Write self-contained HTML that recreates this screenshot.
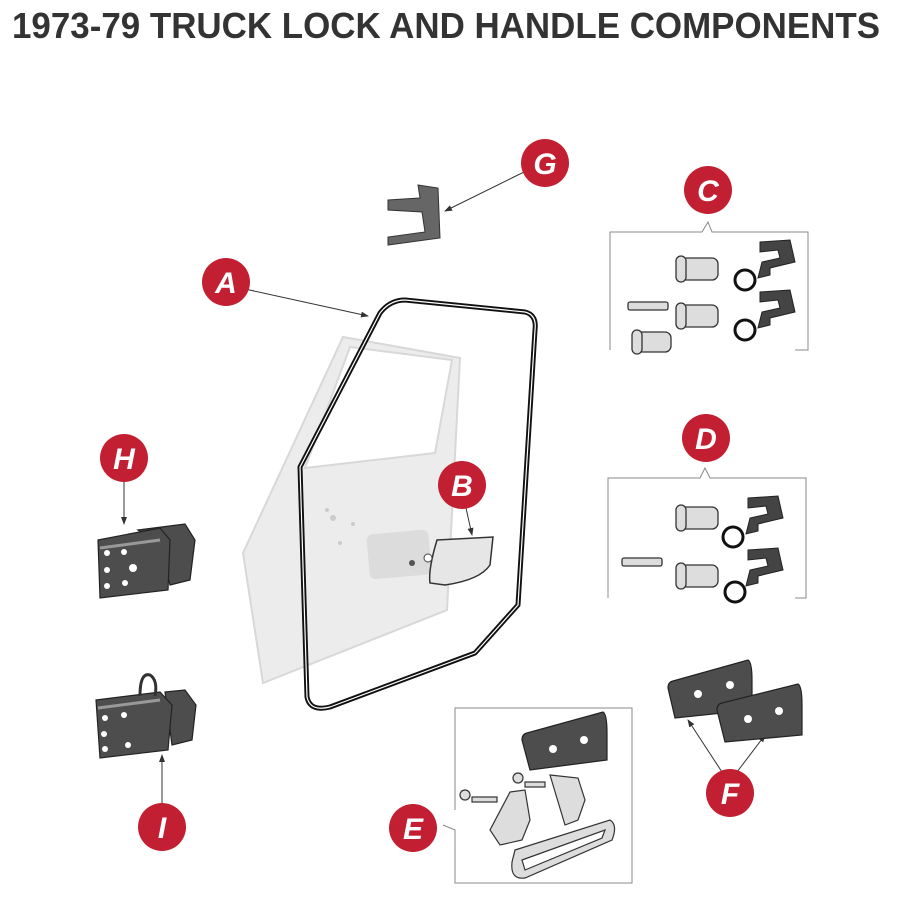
<!DOCTYPE html>
<html><head><meta charset="utf-8"><style>
html,body{margin:0;padding:0;background:#fff;width:900px;height:916px;overflow:hidden}
svg{position:absolute;left:0;top:0}
.b text{font-family:"Liberation Sans",sans-serif;font-weight:bold;font-style:italic;font-size:30px;fill:#fff;text-anchor:middle}
</style></head><body>
<svg width="900" height="916" viewBox="0 0 900 916">
<defs><marker id="ar" markerWidth="8" markerHeight="8" refX="7" refY="4" orient="auto"><path d="M0,1 L8,4 L0,7z" fill="#333"/></marker></defs>
<text x="12" y="38" textLength="868" lengthAdjust="spacingAndGlyphs" font-family="Liberation Sans, sans-serif" font-weight="bold" font-size="36" fill="#333">1973-79 TRUCK LOCK AND HANDLE COMPONENTS</text>
<!-- door -->
<path d="M343,337 L460,358 L447,610 L263,683 L243,553 Z" fill="#ececec" stroke="#d8d8d8" stroke-width="2"/>
<path d="M350,347 L452,360 L435,453 L305,468 Z" fill="#fff" stroke="#d8d8d8" stroke-width="2"/>
<rect x="368" y="532" width="62" height="45" rx="6" fill="#dcdcdc" transform="rotate(-5 399 554)"/>
<circle cx="327" cy="510" r="2" fill="#ccc"/><circle cx="333" cy="518" r="3" fill="#ccc"/><circle cx="353" cy="524" r="2" fill="#ccc"/><circle cx="340" cy="543" r="2" fill="#ccc"/>
<!-- seal -->
<path d="M300,467 L380,313 Q390,300 405,300 L525,312 Q537,315 535,330 L518,605 L475,653 L330,707 Q310,712 307,697 Z" fill="none" stroke="#111" stroke-width="5" stroke-linejoin="round"/>
<path d="M300,467 L380,313 Q390,300 405,300 L525,312 Q537,315 535,330 L518,605 L475,653 L330,707 Q310,712 307,697 Z" fill="none" stroke="#fff" stroke-width="1.2" stroke-linejoin="round"/>
<!-- handle B -->
<path d="M437,540 L493,537 L490,565 Q480,580 445,585 L430,583 Q428,570 437,540 Z" fill="#e6e6e6" stroke="#333" stroke-width="1.5"/>
<circle cx="428" cy="558" r="4" fill="#fff" stroke="#444"/><circle cx="412" cy="563" r="3" fill="#555"/>
<!-- G clip -->
<path d="M418,185 L438,188 L440,238 L388,245 L388,237 L425,232 L422,212 L388,210 L388,200 L420,198 Z" fill="#666" stroke="#333"/>
<!-- arrows -->
<g stroke="#333" stroke-width="1" fill="none" marker-end="url(#ar)">
<line x1="524" y1="172" x2="445" y2="211"/>
<line x1="245" y1="289" x2="368" y2="316"/>
<line x1="466" y1="508" x2="472" y2="535"/>
<line x1="124" y1="482" x2="124" y2="524"/>
<line x1="162" y1="803" x2="162" y2="755"/>
<line x1="722" y1="772" x2="688" y2="720"/>
<line x1="737" y1="772" x2="765" y2="735"/>
</g>
<!-- brackets -->
<g stroke="#888" stroke-width="1" fill="none">
<path d="M610,350 L610,232 L702,232 L708,222 L712,232 L808,232 L808,350 L795,350"/>
<path d="M608,598 L608,478 L700,478 L705,468 L710,478 L806,478 L806,598 L795,598"/>
<path d="M455,810 L455,708 L632,708 L632,883 L455,883 L455,830 L443,825"/>
</g>
<!-- locks -->
<g fill="#ddd" stroke="#333" stroke-width="1.3">
<rect x="680" y="258" width="38" height="22" rx="6"/><rect x="676" y="256" width="10" height="26" rx="5"/>
<rect x="680" y="305" width="38" height="22" rx="6"/><rect x="676" y="303" width="10" height="26" rx="5"/>
<rect x="636" y="332" width="35" height="20" rx="6"/><rect x="632" y="330" width="10" height="24" rx="5"/>
<rect x="628" y="302" width="40" height="8" rx="2"/>
<rect x="680" y="507" width="38" height="22" rx="6"/><rect x="676" y="505" width="10" height="26" rx="5"/>
<rect x="680" y="565" width="38" height="22" rx="6"/><rect x="676" y="563" width="10" height="26" rx="5"/>
<rect x="622" y="558" width="40" height="8" rx="2"/>
</g>
<g fill="none" stroke="#111" stroke-width="3">
<circle cx="745" cy="280" r="10"/><circle cx="745" cy="330" r="10"/>
<circle cx="733" cy="537" r="10"/><circle cx="735" cy="592" r="10"/>
</g>
<g fill="#444" stroke="#222">
<path d="M760,242 L790,240 L795,262 L770,268 L770,275 L758,278 L762,262 L780,258 L778,250 L760,252Z"/>
<path d="M760,292 L790,290 L795,312 L770,318 L770,325 L758,328 L762,312 L780,308 L778,300 L760,302Z"/>
<path d="M748,498 L778,496 L783,518 L758,524 L758,531 L746,534 L750,518 L768,514 L766,506 L748,508Z"/>
<path d="M748,550 L778,548 L783,570 L758,576 L758,583 L746,586 L750,570 L768,566 L766,558 L748,560Z"/>
</g>
<!-- hinges -->
<g fill="#4d4d4d" stroke="#222" stroke-width="1.2">
<path d="M138,530 L185,524 L195,540 L190,580 L170,585 L160,545Z"/>
<path d="M98,540 L160,528 L170,540 L168,590 L100,598 Z"/>
<path d="M165,692 L185,690 L196,705 L192,740 L172,745Z"/>
<path d="M96,700 L160,692 L172,705 L168,750 L100,758 Z"/>
<path d="M140,696 Q140,672 150,675 Q158,680 155,696" fill="none" stroke="#333" stroke-width="3"/>
</g>
<g fill="#fff"><circle cx="107" cy="553" r="3"/><circle cx="124" cy="552" r="3"/><circle cx="107" cy="570" r="3"/><circle cx="133" cy="568" r="4"/><circle cx="107" cy="586" r="3"/><circle cx="125" cy="583" r="3"/>
<circle cx="105" cy="718" r="3"/><circle cx="124" cy="715" r="3"/><circle cx="104" cy="734" r="3"/><circle cx="105" cy="749" r="3"/><circle cx="128" cy="745" r="3"/></g>
<path d="M100,548 L160,540" stroke="#999" stroke-width="3"/><path d="M98,708 L160,700" stroke="#999" stroke-width="3"/>
<!-- F pads -->
<g fill="#4d4d4d" stroke="#222" stroke-width="1.2">
<path d="M668,688 Q668,682 673,681 L748,660 Q752,662 752,680 L752,710 L675,718 Z"/>
<path d="M717,710 Q717,704 722,703 L798,684 Q802,686 802,705 L802,735 L725,742 Z"/>
<path d="M522,740 Q522,734 527,733 L603,712 Q607,714 607,733 L607,760 L530,770 Z"/>
</g>
<g fill="#fff"><circle cx="698" cy="694" r="4"/><circle cx="730" cy="685" r="4"/><circle cx="748" cy="719" r="4"/><circle cx="779" cy="711" r="4"/><circle cx="553" cy="749" r="4"/><circle cx="584" cy="740" r="4"/></g>
<!-- E handle -->
<g fill="#ddd" stroke="#333" stroke-width="1.2">
<path d="M510,792 L525,790 L530,820 L522,840 L500,845 L490,830 Z"/>
<path d="M550,775 L578,778 L585,800 L578,820 L565,825 Z"/>
<path d="M515,850 L610,820 Q618,825 612,840 L525,878 Q510,880 512,862 Z"/>
<path d="M522,860 L605,830 L602,838 L525,870 Z" fill="#fff"/>
<circle cx="465" cy="795" r="5"/><rect x="472" y="797" width="25" height="5"/>
<circle cx="518" cy="778" r="5"/><rect x="525" y="782" width="20" height="5"/>
</g>
<!-- badges -->
<g class="b">
<circle cx="545" cy="163" r="24" fill="#c21f32"/><text x="545" y="174">G</text>
<circle cx="708" cy="190" r="24" fill="#c21f32"/><text x="708" y="201">C</text>
<circle cx="226" cy="282" r="24" fill="#c21f32"/><text x="226" y="293">A</text>
<circle cx="462" cy="485" r="24" fill="#c21f32"/><text x="462" y="496">B</text>
<circle cx="706" cy="438" r="24" fill="#c21f32"/><text x="706" y="449">D</text>
<circle cx="124" cy="458" r="24" fill="#c21f32"/><text x="124" y="469">H</text>
<circle cx="162" cy="827" r="24" fill="#c21f32"/><text x="162" y="838">I</text>
<circle cx="413" cy="828" r="24" fill="#c21f32"/><text x="413" y="839">E</text>
<circle cx="730" cy="793" r="24" fill="#c21f32"/><text x="730" y="804">F</text>
</g>
</svg>
</body></html>
